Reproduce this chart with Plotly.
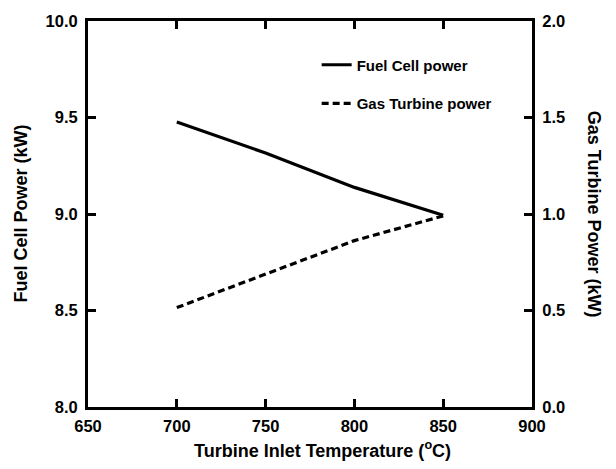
import plotly.graph_objects as go

temps = [700, 750, 800, 850]
fuel_cell_kw = [9.477, 9.316, 9.138, 8.994]
gas_turbine_kw = [0.515, 0.69, 0.862, 0.99]

x_ticks = [650, 700, 750, 800, 850, 900]
y1_ticks = [8.0, 8.5, 9.0, 9.5, 10.0]
y2_ticks = [0.0, 0.5, 1.0, 1.5, 2.0]

FONT = "Liberation Sans, Arial, sans-serif"

fig = go.Figure()
fig.add_trace(go.Scatter(x=temps, y=fuel_cell_kw, mode="lines", name="<b>Fuel Cell power</b>",
                         line=dict(color="black", width=3.2), yaxis="y", legend="legend"))
fig.add_trace(go.Scatter(x=temps, y=gas_turbine_kw, mode="lines", name="<b>Gas Turbine power</b>",
                         line=dict(color="black", width=3.2, dash="7px,4px"), yaxis="y2",
                         legend="legend2"))

axis_common = dict(showline=True, linecolor="black", linewidth=3, ticks="inside",
                   ticklen=8, tickwidth=2.5, tickcolor="black", showgrid=False, zeroline=False,
                   tickfont=dict(family=FONT, size=16.5, color="black"))

legend_font = dict(family=FONT, size=15, color="black")

fig.update_layout(
    width=616, height=469,
    margin=dict(l=88, r=84, t=14, b=62),
    paper_bgcolor="white", plot_bgcolor="white",
    showlegend=True,
    legend=dict(x=0.515, y=0.886, xanchor="left", yanchor="middle", bgcolor="rgba(0,0,0,0)",
                font=legend_font),
    legend2=dict(x=0.515, y=0.786, xanchor="left", yanchor="middle", bgcolor="rgba(0,0,0,0)",
                 font=legend_font),
    xaxis=dict(range=[650, 900], tickvals=x_ticks, ticktext=[f"<b>{v}</b>" for v in x_ticks],
               mirror="ticks", ticklabelstandoff=2, **axis_common),
    yaxis=dict(range=[8.0, 10.0], tickvals=y1_ticks,
               ticktext=[f"<b>{v:.1f}</b>" for v in y1_ticks],
               ticklabelstandoff=4, **axis_common),
    yaxis2=dict(range=[0.0, 2.0], tickvals=y2_ticks,
                ticktext=[f"<b>{v:.1f}</b>" for v in y2_ticks],
                overlaying="y", side="right", ticklabelstandoff=4, **axis_common),
)

fig.add_annotation(text="<b>Turbine Inlet Temperature (<sup>o</sup>C)</b>", xref="paper", yref="paper",
                   x=0.528, y=-0.076, xanchor="center", yanchor="top", showarrow=False,
                   font=dict(family=FONT, size=18, color="black"))
fig.add_annotation(text="<b>Fuel Cell Power (kW)</b>", xref="paper", yref="paper",
                   x=-0.152, y=0.5, xanchor="center", yanchor="middle", textangle=-90,
                   showarrow=False, font=dict(family=FONT, size=18, color="black"))
fig.add_annotation(text="<b>Gas Turbine Power (kW)</b>", xref="paper", yref="paper",
                   x=1.14, y=0.5, xanchor="center", yanchor="middle", textangle=90,
                   showarrow=False, font=dict(family=FONT, size=18, color="black"))

fig.write_html("out.html")
